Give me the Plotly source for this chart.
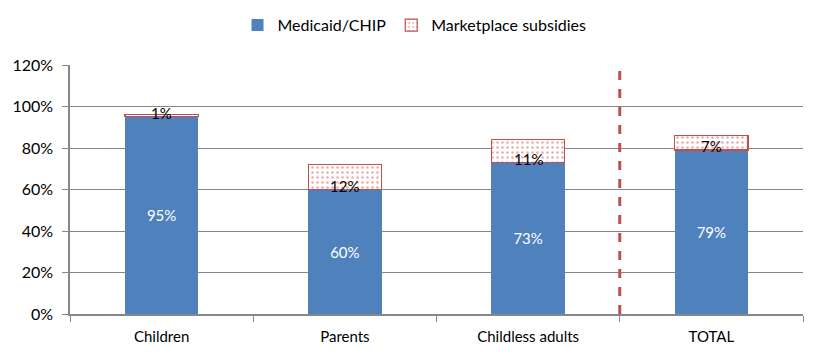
import plotly.graph_objects as go

categories = ["Children", "Parents", "Childless adults", "TOTAL"]
medicaid = [0.95, 0.60, 0.73, 0.79]
marketplace = [0.01, 0.12, 0.11, 0.07]
tick_vals = [0, 0.2, 0.4, 0.6, 0.8, 1.0, 1.2]
tick_text = ["0%", "20%", "40%", "60%", "80%", "100%", "120%"]

FONT = "Lato"
fig = go.Figure()
fig.add_trace(go.Bar(
    x=categories, y=medicaid, name="Medicaid/CHIP",
    marker=dict(color="#4F81BD", line=dict(width=0)),
    text=[f"{v*100:.0f}%" for v in medicaid], textposition="inside",
    insidetextanchor="middle", textfont=dict(color="white", size=15, family=FONT),
    width=0.4,
))
fig.add_trace(go.Bar(
    x=categories, y=marketplace, name="Marketplace subsidies",
    marker=dict(color="white", line=dict(color="#C0504D", width=1.2),
                pattern=dict(shape=".", fgcolor="#D9534F", bgcolor="white", size=5, solidity=0.2)),
    width=0.4,
))
for c, m, p in zip(categories, medicaid, marketplace):
    fig.add_annotation(x=c, y=m, text=f"{p*100:.0f}%", showarrow=False,
                       yshift=4, font=dict(color="black", size=15, family=FONT))

fig.add_shape(type="line", xref="x", yref="y", x0=2.5, x1=2.5, y0=0, y1=1.18,
              line=dict(color="#C0504D", width=3, dash="dash"))

fig.update_layout(
    barmode="stack", width=819, height=358,
    margin=dict(l=62, r=24, t=57, b=52, autoexpand=False),
    plot_bgcolor="white", paper_bgcolor="white",
    font=dict(family=FONT, size=14, color="black"),
    legend=dict(orientation="h", x=0.47, xanchor="center", y=1.16, yanchor="middle",
                font=dict(size=16, family=FONT), itemwidth=30, traceorder="normal"),
    showlegend=True,
)
fig.update_xaxes(showline=True, linecolor="#878787", linewidth=1.5, ticks="outside",
                 tickson="boundaries", ticklen=6, tickcolor="#878787",
                 ticklabelstandoff=8,
                 tickfont=dict(size=15, family=FONT))
fig.update_yaxes(range=[0, 1.2], tickvals=tick_vals, ticktext=tick_text,
                 showgrid=True, gridcolor="#878787", gridwidth=1.2,
                 showline=True, linecolor="#878787", linewidth=1.5,
                 ticks="outside", ticklen=6, tickcolor="#878787",
                 ticklabelstandoff=6,
                 tickfont=dict(size=16, family=FONT), zeroline=False)
fig.write_html("out.html")
